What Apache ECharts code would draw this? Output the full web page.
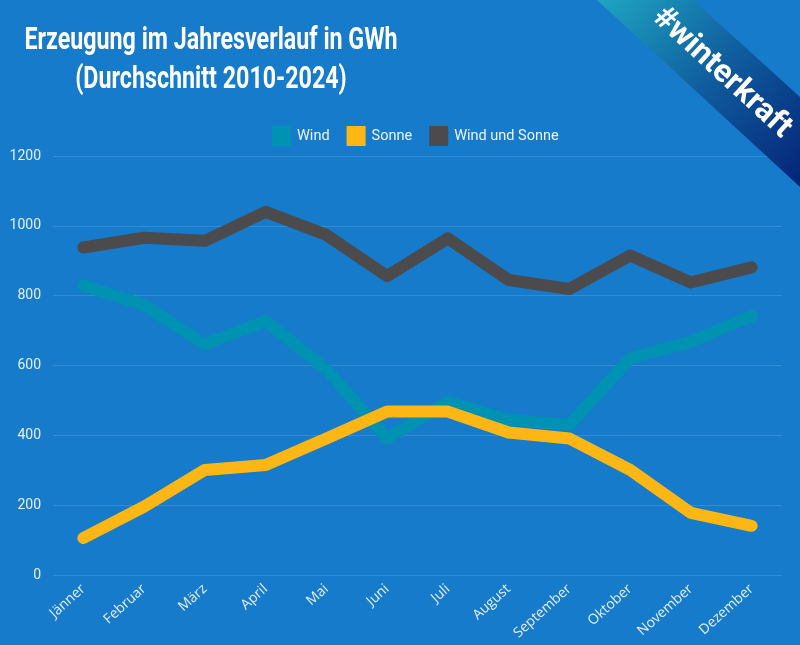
<!DOCTYPE html>
<html>
<head>
<meta charset="utf-8">
<script src="https://cdn.jsdelivr.net/npm/echarts@6/dist/echarts.min.js"></script>
<style>
html,body{margin:0;padding:0;background:#167bca;}
#c{width:800px;height:645px;}
</style>
</head>
<body>
<div id="c"></div>
<script>
const categories = ['Jänner','Februar','März','April','Mai','Juni','Juli','August','September','Oktober','November','Dezember'];
const wind = [829, 773, 661, 727, 589, 391, 496, 444, 430, 621, 668, 742];
const sonne = [106, 196, 301, 315, 391, 468, 468, 408, 391, 301, 178, 141];
const windUndSonne = [938, 966, 957, 1040, 974, 856, 964, 845, 819, 915, 838, 881];
const yTicks = [0, 200, 400, 600, 800, 1000, 1200];

const chart = echarts.init(document.getElementById('c'), null, {renderer: 'canvas'});
const lineCommon = {
  type: 'line',
  showSymbol: false,
  symbol: 'none',
  smooth: false,
  animation: false
};
const mkSeries = (name, data, color) => Object.assign({}, lineCommon, {
  name: name,
  data: data,
  itemStyle: {color: color},
  lineStyle: {color: color, width: 12, cap: 'round', join: 'round'}
});

chart.setOption({
  backgroundColor: '#167bca',
  animation: false,
  grid: {left: 53, right: 18, top: 156, bottom: 70, containLabel: false},
  legend: {
    left: 267,
    top: 121,
    icon: 'rect',
    itemWidth: 19,
    itemHeight: 20,
    itemGap: 17,
    textStyle: {color: '#eef4fb', fontSize: 14.5, fontFamily: 'Roboto', padding: [0, 0, 0, 1]},
    data: ['Wind', 'Sonne', 'Wind und Sonne']
  },
  xAxis: {
    type: 'category',
    data: categories,
    boundaryGap: true,
    axisLine: {show: false},
    axisTick: {show: false},
    axisLabel: {
      color: '#e6effa',
      fontSize: 14,
      fontFamily: 'Open Sans',
      rotate: 42,
      margin: 12,
      interval: 0
    }
  },
  yAxis: {
    type: 'value',
    min: yTicks[0],
    max: yTicks[yTicks.length - 1],
    interval: 200,
    axisLine: {show: false},
    axisTick: {show: false},
    axisLabel: {color: '#e6effa', fontSize: 14, fontFamily: 'Roboto', margin: 12, formatter: (v) => String(v)},
    splitLine: {lineStyle: {color: 'rgba(255,255,255,0.13)', width: 1}}
  },
  series: [
    mkSeries('Wind', wind, '#0092b2'),
    mkSeries('Sonne', sonne, '#fdb714'),
    mkSeries('Wind und Sonne', windUndSonne, '#4b4a4d')
  ],
  graphic: [
    {
      type: 'text',
      x: 211, y: 41,
      scaleX: 0.75,
      style: {
        text: 'Erzeugung im Jahresverlauf in GWh',
        fill: '#ffffff',
        font: 'bold 31px Roboto',
        textAlign: 'center',
        textVerticalAlign: 'middle'
      }
    },
    {
      type: 'text',
      x: 211, y: 80,
      scaleX: 0.75,
      style: {
        text: '(Durchschnitt 2010-2024)',
        fill: '#ffffff',
        font: 'bold 31px Roboto',
        textAlign: 'center',
        textVerticalAlign: 'middle'
      }
    },
    {
      type: 'polygon',
      z: 100,
      shape: {points: [[597, 0], [693, 0], [800, 97], [800, 187]]},
      style: {
        fill: {
          type: 'linear', x: 0, y: 0, x2: 1, y2: 1,
          colorStops: [
            {offset: 0, color: '#1fa6c2'},
            {offset: 0.5, color: '#0f5c9e'},
            {offset: 1, color: '#052478'}
          ]
        }
      }
    },
    {
      type: 'text',
      z: 101,
      x: 722, y: 73,
      rotation: -0.745,
      style: {
        text: '#winterkraft',
        fill: '#ffffff',
        font: 'bold 32px Roboto',
        textAlign: 'center',
        textVerticalAlign: 'middle'
      }
    }
  ]
});
</script>
</body>
</html>
